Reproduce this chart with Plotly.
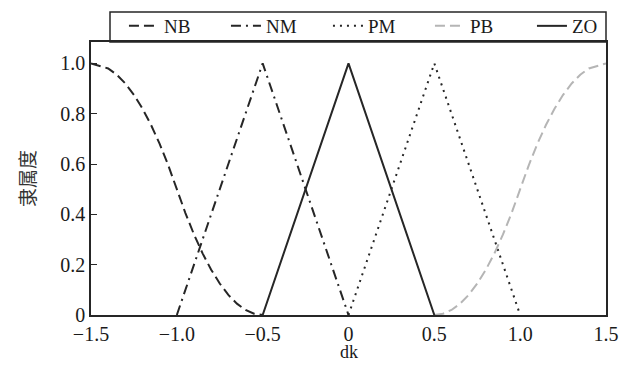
import plotly.graph_objects as go

# ---- data ----
nb_x = [-1.5, -1.45, -1.4, -1.35, -1.3, -1.25, -1.2, -1.15, -1.1, -1.05, -1.0,
        -0.95, -0.9, -0.85, -0.8, -0.75, -0.7, -0.65, -0.6, -0.55, -0.5]
nb_y = [1.0, 0.99, 0.98, 0.955, 0.92, 0.875, 0.82, 0.755, 0.68, 0.595, 0.5,
        0.405, 0.32, 0.245, 0.18, 0.125, 0.08, 0.045, 0.02, 0.005, 0.0]
nm_x = [-1.0, -0.5, 0.0]
nm_y = [0.0, 1.0, 0.0]
pm_x = [0.0, 0.5, 1.0]
pm_y = [0.0, 1.0, 0.0]
pb_x = [0.5, 0.55, 0.6, 0.65, 0.7, 0.75, 0.8, 0.85, 0.9, 0.95, 1.0,
        1.05, 1.1, 1.15, 1.2, 1.25, 1.3, 1.35, 1.4, 1.45, 1.5]
pb_y = [0.0, 0.005, 0.02, 0.045, 0.08, 0.125, 0.18, 0.245, 0.32, 0.405, 0.5,
        0.595, 0.68, 0.755, 0.82, 0.875, 0.92, 0.955, 0.98, 0.99, 1.0]
zo_x = [-0.5, 0.0, 0.5]
zo_y = [0.0, 1.0, 0.0]

x_ticks = [-1.5, -1.0, -0.5, 0.0, 0.5, 1.0, 1.5]
x_ticktext = ["\u22121.5", "\u22121.0", "\u22120.5", "0", "0.5", "1.0", "1.5"]
y_ticks = [0, 0.2, 0.4, 0.6, 0.8, 1.0]
y_ticktext = ["0", "0.2", "0.4", "0.6", "0.8", "1.0"]
x_title = "dk"
y_title = "隶属度"

FONT = "Liberation Serif, Times New Roman, serif"
DARK = "#262626"

fig = go.Figure()
fig.add_trace(go.Scatter(x=nb_x, y=nb_y, mode="lines", name="NB",
                         line=dict(color=DARK, width=2, dash="10px,5px")))
fig.add_trace(go.Scatter(x=nm_x, y=nm_y, mode="lines", name="NM",
                         line=dict(color=DARK, width=2, dash="10px,5px,2px,5px")))
fig.add_trace(go.Scatter(x=pm_x, y=pm_y, mode="lines", name="PM",
                         line=dict(color=DARK, width=2, dash="2px,5px")))
fig.add_trace(go.Scatter(x=pb_x, y=pb_y, mode="lines", name="PB",
                         line=dict(color="#b5b5b5", width=2, dash="10px,5px")))
fig.add_trace(go.Scatter(x=zo_x, y=zo_y, mode="lines", name="ZO",
                         line=dict(color=DARK, width=2)))

# the page body keeps its default 8px margin, so the figure is 8px smaller
fig.update_layout(
    width=626, height=357,
    margin=dict(l=83, r=28, t=34, b=50, autoexpand=False),
    paper_bgcolor="white", plot_bgcolor="white",
    font=dict(family=FONT, size=20, color="#1a1a1a"),
    showlegend=True,
    legend=dict(orientation="h", x=0.064, xanchor="left", y=1.0586, yanchor="middle",
                borderwidth=0, bgcolor="rgba(0,0,0,0)",
                font=dict(family=FONT, size=19),
                entrywidth=57, tracegroupgap=0),
    # frame around the legend row, sitting on top of the plot frame
    shapes=[dict(type="rect", xref="paper", yref="paper",
                 x0=0.0369, x1=1.0, y0=1.0, y1=1.11,
                 line=dict(color=DARK, width=1.5), fillcolor="rgba(0,0,0,0)")],
    xaxis=dict(range=[-1.5, 1.5], tickvals=x_ticks, ticktext=x_ticktext,
               showgrid=False, zeroline=False, showline=True, mirror=True,
               linecolor=DARK, linewidth=1.5, ticks="", ticklen=0,
               automargin=False),
    yaxis=dict(range=[0, 1.085], tickvals=y_ticks, ticktext=y_ticktext,
               showgrid=False, zeroline=False, showline=True, mirror=True,
               linecolor=DARK, linewidth=1.5, ticks="inside", ticklen=6,
               tickcolor=DARK, tickwidth=1.2, automargin=False,
               title=dict(text=y_title,
                          font=dict(family="Noto Sans CJK SC", size=19, color="#333333"),
                          standoff=20)),
    annotations=[dict(text=x_title, x=0.5, y=0, xref="paper", yref="paper",
                      xanchor="center", yanchor="top", yshift=-25, showarrow=False,
                      font=dict(family=FONT, size=18))],
)

fig.write_html("out.html")
